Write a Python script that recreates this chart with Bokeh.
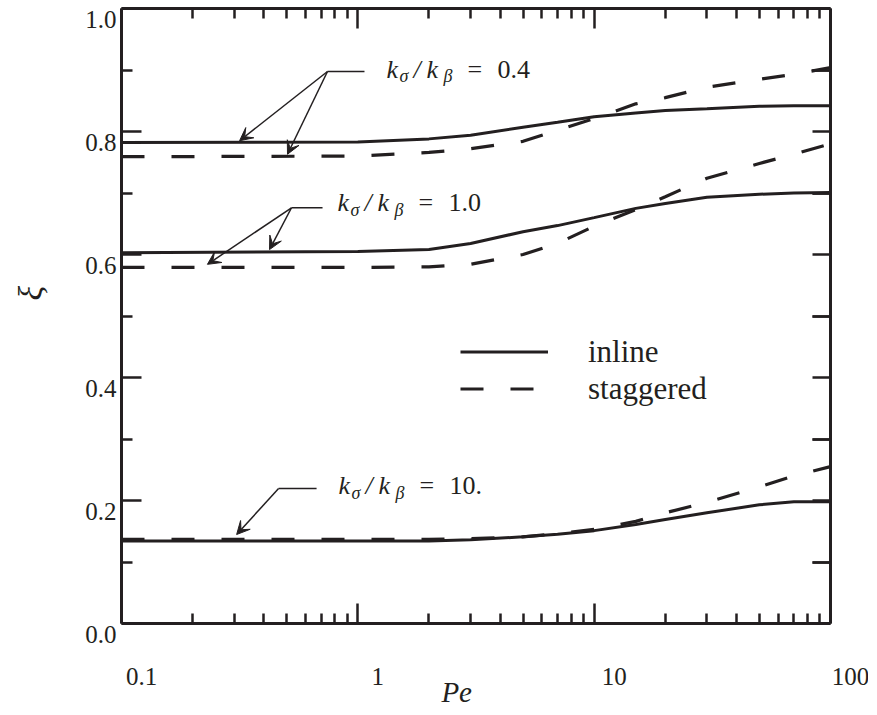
import math
from bokeh.plotting import figure
from bokeh.models import (Range1d, LogAxis, LinearAxis, FixedTicker, Label, LabelSet,
                          ColumnDataSource, Arrow, VeeHead, Legend, LegendItem)
from bokeh.embed import file_html
from bokeh.resources import INLINE

# ---------------- data ----------------
pe = [0.1, 1, 2, 3, 5, 7, 10, 15, 20, 30, 50, 70, 100]

inline_04 = [0.782, 0.783, 0.788, 0.794, 0.807, 0.815, 0.824, 0.830, 0.834, 0.837, 0.841, 0.842, 0.842]
stagg_04 = [0.759, 0.760, 0.766, 0.772, 0.784, 0.802, 0.821, 0.845, 0.855, 0.872, 0.885, 0.893, 0.904]

inline_10 = [0.603, 0.605, 0.608, 0.618, 0.637, 0.647, 0.660, 0.675, 0.683, 0.693, 0.698, 0.700, 0.701]
stagg_10 = [0.579, 0.579, 0.580, 0.584, 0.600, 0.618, 0.646, 0.673, 0.694, 0.724, 0.748, 0.763, 0.780]

inline_100 = [0.134, 0.134, 0.134, 0.136, 0.141, 0.145, 0.151, 0.161, 0.169, 0.180, 0.193, 0.198, 0.198]
stagg_100 = [0.137, 0.137, 0.137, 0.138, 0.141, 0.146, 0.153, 0.166, 0.180, 0.197, 0.222, 0.240, 0.255]

x_major = [0.1, 1, 10, 100]
x_minor = [m * d for d in (0.1, 1, 10) for m in range(2, 10)]
x_labels = ["0.1", "1", "10", "100"]

y_major = [0.0, 0.2, 0.4, 0.6, 0.8, 1.0]
y_minor = [0.1, 0.3, 0.5, 0.7, 0.9]
y_all = [0.0, 0.1, 0.2, 0.3, 0.4, 0.5, 0.6, 0.7, 0.8, 0.9, 1.0]
y_labels = ["0.0", "0.2", "0.4", "0.6", "0.8", "1.0"]

# annotations: (value text, text anchor x, text anchor y, leader start x, leader end x, arrow tips)
annotations = [
    ("0.4", 1.323, 0.898, 0.744, 1.067, [(0.316, 0.785), (0.504, 0.763)]),
    ("1.0", 0.820, 0.681, 0.524, 0.709, [(0.231, 0.584), (0.423, 0.608)]),
    ("10.", 0.828, 0.221, 0.462, 0.669, [(0.307, 0.1447)]),
]
leader_y = [0.8976, 0.676, 0.2195]

INK = "#231f20"
SERIF = "Liberation Serif"

# ---------------- layout (pixels) ----------------
BOX_W, BOX_H = 709, 615          # plot box
PAD_L, PAD_R, PAD_T, PAD_B = 121, 38, 8, 87
PX_DEC = BOX_W / 3.0             # pixels per decade
X0, X1 = x_major[0], x_major[-1]
Y0, Y1 = y_major[0], y_major[-1]

x_range = Range1d(X0 * 10 ** (-PAD_L / PX_DEC), X1 * 10 ** (PAD_R / PX_DEC))
y_range = Range1d(Y0 - PAD_B / BOX_H * (Y1 - Y0), Y1 + PAD_T / BOX_H * (Y1 - Y0))

p = figure(x_axis_type="log", x_range=x_range, y_range=y_range,
           width=PAD_L + BOX_W + PAD_R, height=PAD_T + BOX_H + PAD_B,
           min_border=0, output_backend="svg", toolbar_location=None)
p.xgrid.visible = False
p.ygrid.visible = False
p.outline_line_color = None
p.background_fill_color = "white"
p.border_fill_color = "white"


def style_axis(ax, maj_in, min_in):
    ax.axis_line_width = 3
    ax.axis_line_color = INK
    ax.major_tick_in = maj_in
    ax.major_tick_out = 0
    ax.minor_tick_in = min_in
    ax.minor_tick_out = 0
    ax.major_tick_line_width = 2.5
    ax.minor_tick_line_width = 2.5
    ax.major_tick_line_color = INK
    ax.minor_tick_line_color = INK
    ax.major_label_text_font_size = "2px"
    ax.major_label_text_color = None
    ax.major_label_standoff = 0


bottom = p.xaxis[0]
bottom.ticker = FixedTicker(ticks=x_major, minor_ticks=x_minor)
bottom.fixed_location = Y0
bottom.bounds = (X0, X1)
style_axis(bottom, 20, 10)

top = LogAxis(ticker=FixedTicker(ticks=x_major, minor_ticks=x_minor),
              fixed_location=Y1, bounds=(X0, X1))
style_axis(top, 20, 10)
p.add_layout(top, "above")

left = p.yaxis[0]
left.ticker = FixedTicker(ticks=y_major, minor_ticks=y_minor)
left.fixed_location = X0
left.bounds = (Y0, Y1)
style_axis(left, 20, 11)

right = LinearAxis(ticker=FixedTicker(ticks=y_all, minor_ticks=y_minor),
                   fixed_location=X1, bounds=(Y0, Y1))
style_axis(right, 18, 18)
p.add_layout(right, "right")

# ---------------- curves ----------------
solid_r = []
dash_r = []
for ys in (inline_04, inline_10, inline_100):
    solid_r.append(p.line(pe, ys, line_color=INK, line_width=3))
for ys in (stagg_04, stagg_10, stagg_100):
    dash_r.append(p.line(pe, ys, line_color=INK, line_width=3.2, line_dash="23 27"))

legend = Legend(items=[LegendItem(label="inline", renderers=[solid_r[0]]),
                       LegendItem(label="staggered", renderers=[dash_r[0]])],
                location=(PAD_L + 339, PAD_B + 216), glyph_width=88, glyph_height=37,
                label_height=37, label_standoff=40, spacing=0, padding=0, margin=0,
                border_line_color=None, background_fill_alpha=0,
                label_text_font=SERIF, label_text_font_size="31px", label_text_color=INK)
p.add_layout(legend)

# ---------------- tick labels ----------------
ysrc = ColumnDataSource(dict(x=[X0] * len(y_major), y=y_major, t=y_labels))
p.add_layout(LabelSet(x="x", y="y", text="t", source=ysrc, x_offset=-5, y_offset=-11,
                      text_align="right", text_baseline="middle", text_font=SERIF,
                      text_font_size="25px", text_color=INK))
xsrc = ColumnDataSource(dict(x=x_major, y=[Y0] * len(x_major), t=x_labels))
p.add_layout(LabelSet(x="x", y="y", text="t", source=xsrc, x_offset=20, y_offset=-53,
                      text_align="center", text_baseline="middle", text_font=SERIF,
                      text_font_size="25px", text_color=INK))

# axis titles
p.add_layout(Label(x=2.62, y=Y0, y_offset=-68, text="Pe", text_font=SERIF,
                   text_font_style="italic", text_font_size="29px", text_color=INK,
                   text_align="center", text_baseline="middle"))
p.add_layout(Label(x=X0, y=0.537, x_offset=-91, text="ξ", angle=math.pi / 2,
                   text_font=SERIF, text_font_style="italic", text_font_size="34px",
                   text_color=INK, text_align="center", text_baseline="middle"))

# ---------------- annotations ----------------
for (val, tx, ty, lx0, lx1, tips), ly in zip(annotations, leader_y):
    pieces = [("k", 0, 2, "26px", "italic"),
              ("σ", 13, -5, "18px", "italic"),
              ("/", 27, 2, "26px", "italic"),
              ("k", 40, 2, "26px", "italic"),
              ("β", 57, -5, "18px", "italic"),
              ("=", 81, 2, "26px", "normal"),
              (val, 111, 2, "26px", "normal")]
    for txt, dx, dy, fs, st in pieces:
        p.add_layout(Label(x=tx, y=ty, x_offset=dx, y_offset=dy, text=txt, text_font=SERIF,
                           text_font_size=fs, text_font_style=st, text_color=INK,
                           text_align="left", text_baseline="middle"))
    p.add_layout(Arrow(x_start=lx0, y_start=ly, x_end=lx1, y_end=ly, end=None,
                       line_color=INK, line_width=1.5))
    for ex, ey in tips:
        p.add_layout(Arrow(x_start=lx0, y_start=ly, x_end=ex, y_end=ey,
                           end=VeeHead(size=13, fill_color=INK, line_color=INK, line_width=1),
                           line_color=INK, line_width=1.5))

open("out.html", "w").write(file_html(p, INLINE))
